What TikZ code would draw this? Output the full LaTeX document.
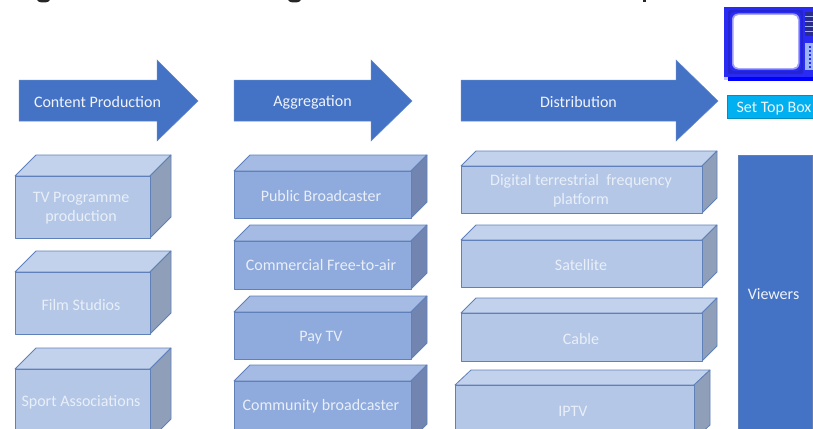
\documentclass[tikz,border=0pt]{standalone}
\usepackage{fontspec}
\setmainfont{Carlito}
\definecolor{arrowblue}{HTML}{4472C4}
\definecolor{lfront}{HTML}{B4C7E7}
\definecolor{ltop}{HTML}{C3D2EC}
\definecolor{lside}{HTML}{8F9FB9}
\definecolor{mfront}{HTML}{8FAADC}
\definecolor{mtop}{HTML}{A5BBE3}
\definecolor{mside}{HTML}{7285B0}
\definecolor{edgeblue}{HTML}{5F80B8}
\definecolor{ltext}{HTML}{E9EFF8}
\definecolor{tvblue}{HTML}{2A2AF5}
\definecolor{tvdark}{HTML}{0000FF}
\definecolor{tvpanel}{HTML}{2B2B8C}
\definecolor{tvlight}{HTML}{9DB4F5}
\definecolor{stb}{HTML}{00B0F0}
\tikzset{
  x=1pt,y=-1pt,
  lbl/.style={text=white!92!arrowblue,font=\fontsize{16}{19.5}\selectfont,align=center,inner sep=0pt},
  dimlbl/.style={lbl,text=ltext},
  chev/.style={fill=arrowblue,draw=arrowblue!85!white,line width=.5pt},
  edged/.style={draw=edgeblue,line width=.8pt,line join=round}
}
% #1 left #2 right #3 back right #4 back top #5 front top #6 bottom #7 front #8 top #9 side
\newcommand{\cuboid}[9]{%
  \path[edged,fill=#8] (#1,#5) -- (#1+#3-#2,#4) -- (#3,#4) -- (#2,#5) -- cycle;
  \path[edged,fill=#9] (#2,#5) -- (#3,#4) -- (#3,#6-#5+#4) -- (#2,#6) -- cycle;
  \path[edged,fill=#7] (#1,#5) rectangle (#2,#6);
}
\newcommand{\arrowshape}[3]{% left, head base, tip
  \path[chev] (#1,80) -- (#2,80) -- (#2,60) -- (#3,101) -- (#2,141) -- (#2,121) -- (#1,121) -- cycle;
}
\begin{document}
\begin{tikzpicture}
\clip (0,0) rectangle (813,428);
\fill[white] (0,0) rectangle (813,428);
% clipped descenders of the title line
\fill[black!85] (37,0) arc[start angle=180,end angle=0,x radius=6.5,y radius=2.5] -- cycle;
\fill[black!85] (288,0) arc[start angle=180,end angle=0,x radius=6.5,y radius=2.5] -- cycle;
\fill[black!85] (643,0) rectangle (646,2.5);
% arrows
\arrowshape{19}{157}{198}
\arrowshape{234}{371}{412}
\arrowshape{461}{676}{718}
\node[lbl] (a1) at (97.5,102) {Content Production};
\node[lbl] (a2) at (312.5,102) {Aggregation};
\node[lbl] (a3) at (578.5,102) {Distribution};
% column 1
\cuboid{15}{150}{171}{155}{176}{238}{lfront}{ltop}{lside}
\cuboid{15}{150}{171}{251}{272}{334}{lfront}{ltop}{lside}
\cuboid{15}{150}{171}{348}{369}{440}{lfront}{ltop}{lside}
\node[dimlbl] (c1a) at (81,208) {TV Programme\\production};
\node[dimlbl] (c1b) at (81,305) {Film Studios};
\node[dimlbl] (c1c) at (81,402) {Sport Associations};
% column 2
\cuboid{234}{411}{427}{155}{171}{218}{mfront}{mtop}{mside}
\cuboid{234}{411}{427}{225}{241}{289}{mfront}{mtop}{mside}
\cuboid{234}{411}{427}{296}{312}{359}{mfront}{mtop}{mside}
\cuboid{234}{411}{427}{365}{381}{440}{mfront}{mtop}{mside}
\node[dimlbl] (c2a) at (321,196) {Public Broadcaster};
\node[dimlbl] (c2b) at (321,265) {Commercial Free-to-air};
\node[dimlbl] (c2c) at (321,338) {Pay TV};
\node[dimlbl] (c2d) at (321,406) {Community broadcaster};
% column 3
\cuboid{461}{702}{717}{151}{166}{213}{lfront}{ltop}{lside}
\cuboid{461}{702}{717}{225}{240}{287}{lfront}{ltop}{lside}
\cuboid{461}{702}{717}{298}{313}{361}{lfront}{ltop}{lside}
\cuboid{455}{694}{710}{370}{385}{440}{lfront}{ltop}{lside}
\node[dimlbl] (c3a) at (581,190.5) {Digital terrestrial~ frequency\\platform};
\node[dimlbl] (c3b) at (581,265) {Satellite};
\node[dimlbl] (c3c) at (581,339) {Cable};
\node[dimlbl] (c3d) at (573,411) {IPTV};
% viewers
\path[fill=arrowblue,draw=edgeblue,line width=.8pt] (738,155) rectangle (812,440);
\node[lbl] (v) at (773.5,294.5) {Viewers};
% set top box
\path[fill=stb,draw=stb!80!black,line width=.6pt] (727,95) rectangle (815,118);
\node[lbl] (stb) at (774,108.5) {Set Top Box};
% television
\fill[tvblue] (724,7) rectangle (813,77);
\fill[tvdark] (728,77) rectangle (813,81);
\fill[tvblue!30!white] (724,77) rectangle (728,79.5);
\fill[tvblue!85!black,rounded corners=2pt] (728,10) rectangle (803,74);
\fill[tvblue,rounded corners=4pt] (730,12) rectangle (801,71);
\fill[tvblue!45!white,rounded corners=6pt] (732,13.5) rectangle (799.5,69.5);
\fill[white,rounded corners=5pt] (733.5,15) rectangle (798,68);
\fill[tvpanel] (805,12) rectangle (813,36);
\foreach \yy in {16,21,26,31}{\fill[tvlight] (805,\yy) rectangle (813,\yy+1.5);}
\fill[tvlight] (805,43) rectangle (813,70);
\foreach \yy in {46,50,...,66}{\fill[tvblue] (809,\yy) rectangle (811,\yy+2);}
\end{tikzpicture}
\end{document}
